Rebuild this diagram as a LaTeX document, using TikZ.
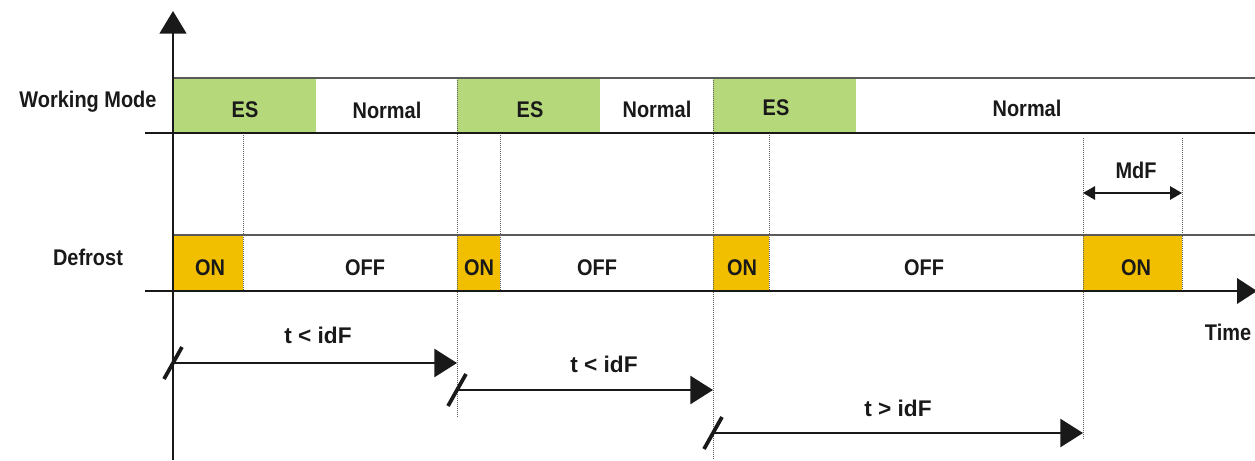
\documentclass[tikz,border=0pt]{standalone}
\usepackage{fontspec}
\setmainfont{Liberation Sans}
\newfontfamily\narrowfont{Liberation Sans}[FakeStretch=0.88]
\usetikzlibrary{arrows.meta}
\definecolor{esgreen}{RGB}{181,217,122}
\definecolor{onorange}{RGB}{242,190,0}
\definecolor{thingray}{RGB}{90,90,90}
\tikzset{
  lbl/.style={font=\narrowfont\bfseries\fontsize{17}{17}\selectfont, inner sep=0pt, text=black!90},
  tlbl/.style={font=\bfseries\fontsize{17}{17}\selectfont, inner sep=0pt, text=black!90},
  dotline/.style={densely dotted, thingray, line width=0.5pt},
  thinline/.style={thingray, line width=0.8pt},
  axisline/.style={black!90, line width=2pt},
  bigarrow/.style={black!90, line width=2pt, -{Triangle[length=17pt,width=21pt]}},
  dblarrow/.style={black!90, line width=1.5pt, {Triangle[length=9pt,width=10pt]}-{Triangle[length=9pt,width=10pt]}},
  slash/.style={black!90, line width=2.8pt},
}
\begin{document}
\begin{tikzpicture}[x=0.75pt,y=-0.75pt]
\useasboundingbox (0,0) rectangle (1255,460);
% fills
\fill[esgreen] (173,78) rectangle (316,133);
\fill[esgreen] (457,78) rectangle (600,133);
\fill[esgreen] (713,78) rectangle (856,133);
\fill[onorange] (173,235) rectangle (243,291);
\fill[onorange] (457,235) rectangle (500,291);
\fill[onorange] (713,235) rectangle (769,291);
\fill[onorange] (1083,235) rectangle (1182,291);
% dotted lines
\draw[dotline] (243,133) -- (243,291);
\draw[dotline] (457,78) -- (457,418);
\draw[dotline] (500,133) -- (500,291);
\draw[dotline] (713,78) -- (713,460);
\draw[dotline] (769,133) -- (769,291);
\draw[dotline] (1083,138) -- (1083,440);
\draw[dotline] (1182,138) -- (1182,291);
% thin row tops
\draw[thinline] (173,78) -- (1255,78);
\draw[thinline] (173,235) -- (1255,235);
% coordinates
\coordinate (yb) at (173,460);
\coordinate (yt) at (173,11);
\coordinate (wl) at (145,133);
\coordinate (wr) at (1255,133);
\coordinate (tl) at (145,291);
\coordinate (tr) at (1257,291);
\draw[axisline] (wl) -- (wr);
\draw[axisline, -{Triangle[length=17pt,width=20pt]}] (yb) -- (yt);
\draw[axisline, -{Triangle[length=15pt,width=19pt]}] (tl) -- (tr);
% labels
\node[lbl] (wm) at (88,102) {Working Mode};
\node[lbl] (df) at (88,257) {Defrost};
\node[lbl] (es1) at (245,110) {ES};
\node[lbl] (n1) at (387,110) {Normal};
\node[lbl] (es2) at (530,110) {ES};
\node[lbl] (n2) at (657,109) {Normal};
\node[lbl] (es3) at (776,108) {ES};
\node[lbl] (n3) at (1027,108) {Normal};
\node[lbl] (on1) at (210,268) {ON};
\node[lbl] (off1) at (365,268) {OFF};
\node[lbl] (on2) at (479,268) {ON};
\node[lbl] (off2) at (597,268) {OFF};
\node[lbl] (on3) at (742,268) {ON};
\node[lbl] (off3) at (924,268) {OFF};
\node[lbl] (on4) at (1136,268) {ON};
\node[lbl] (time) at (1228,332) {Time};
\node[lbl] (mdf) at (1136,170) {MdF};
% MdF arrow
\coordinate (m1) at (1083,193);
\coordinate (m2) at (1182,193);
\draw[dblarrow] (m1) -- (m2);
% interval arrows
\coordinate (a1s) at (173,363); \coordinate (a1e) at (457,363);
\coordinate (a2s) at (457,390); \coordinate (a2e) at (713,390);
\coordinate (a3s) at (713,433); \coordinate (a3e) at (1083,433);
\draw[bigarrow] (a1s) -- (a1e);
\draw[bigarrow] (a2s) -- (a2e);
\draw[bigarrow] (a3s) -- (a3e);
\draw[slash] ([shift={(-9,16)}]a1s) -- ([shift={(9,-16)}]a1s);
\draw[slash] ([shift={(-9,16)}]a2s) -- ([shift={(9,-16)}]a2s);
\draw[slash] ([shift={(-9,16)}]a3s) -- ([shift={(9,-16)}]a3s);
\node[tlbl] (l1) at (318,335) {t < idF};
\node[tlbl] (l2) at (604,364) {t < idF};
\node[tlbl] (l3) at (898,408) {t > idF};
\end{tikzpicture}
\end{document}
